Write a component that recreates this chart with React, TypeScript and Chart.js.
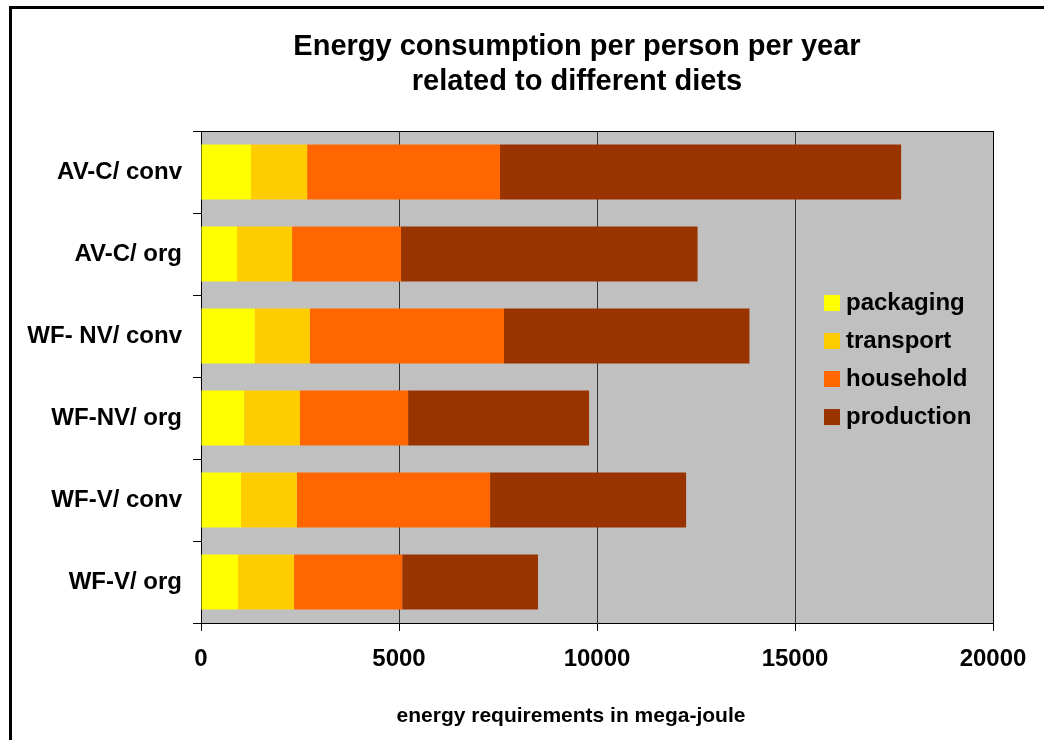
import React, { useEffect, useRef } from "react";
import { Chart, registerables } from "chart.js";

Chart.register(...registerables);

const categories = ["AV-C/ conv", "AV-C/ org", "WF- NV/ conv", "WF-NV/ org", "WF-V/ conv", "WF-V/ org"];
const packaging = [1260, 910, 1360, 1090, 1010, 935];
const transport = [1420, 1390, 1390, 1410, 1410, 1415];
const household = [4870, 2750, 4900, 2730, 4880, 2730];
const production = [10130, 7490, 6200, 4570, 4950, 3430];
const seriesNames = ["packaging", "transport", "household", "production"];
const seriesColors = ["#FFFF00", "#FFCC00", "#FF6600", "#993300"];
const xTicks = [0, 5000, 10000, 15000, 20000];
const titleLines = ["Energy consumption per person per year", "related to different diets"];
const xAxisTitle = "energy requirements in mega-joule";

const FONT = '"Liberation Sans", Arial, sans-serif';

const decorPlugin = {
  id: "decor",
  beforeDraw(chart: any) {
    const { ctx, chartArea } = chart;
    ctx.save();
    ctx.fillStyle = "#ffffff";
    ctx.fillRect(0, 0, chart.width, chart.height);
    ctx.fillStyle = "#000000";
    ctx.fillRect(9, 6, chart.width, 3);
    ctx.fillRect(9, 6, 3, chart.height);
    ctx.fillStyle = "#C0C0C0";
    ctx.fillRect(chartArea.left, chartArea.top, chartArea.right - chartArea.left, chartArea.bottom - chartArea.top);
    ctx.restore();
  },
  afterDatasetsDraw(chart: any) {
    const { ctx, chartArea } = chart;
    ctx.save();
    ctx.strokeStyle = "#000000";
    ctx.lineWidth = 1;
    ctx.beginPath();
    ctx.moveTo(chartArea.left, chartArea.top + 0.5);
    ctx.lineTo(chartArea.right + 0.5, chartArea.top + 0.5);
    ctx.lineTo(chartArea.right + 0.5, chartArea.bottom);
    ctx.stroke();
    ctx.restore();
  },
  afterDraw(chart: any) {
    const { ctx } = chart;
    ctx.save();
    ctx.fillStyle = "#000000";
    ctx.textAlign = "center";
    ctx.textBaseline = "middle";
    ctx.font = `bold 29px ${FONT}`;
    ctx.fillText(titleLines[0], 577, 47);
    ctx.fillText(titleLines[1], 577, 82);
    ctx.font = `bold 21px ${FONT}`;
    ctx.fillText(xAxisTitle, 571, 716);
    // legend
    ctx.textAlign = "left";
    ctx.font = `bold 24px ${FONT}`;
    chart.data.datasets.forEach((ds: any, i: number) => {
      const top = 295 + 38 * i;
      ctx.fillStyle = ds.backgroundColor;
      ctx.fillRect(824, top, 16, 16);
      ctx.fillStyle = "#000000";
      ctx.fillText(ds.label, 846, top + 8);
    });
    ctx.restore();
  },
};

export default function App() {
  const ref = useRef<HTMLCanvasElement | null>(null);
  useEffect(() => {
    if (!ref.current) return;
    const values = [packaging, transport, household, production];
    const chart = new Chart(ref.current, {
      type: "bar",
      data: {
        labels: categories,
        datasets: seriesNames.map((name, i) => ({
          label: name,
          data: values[i],
          backgroundColor: seriesColors[i],
          borderWidth: 0,
          barPercentage: 0.67,
          categoryPercentage: 1,
        })),
      },
      options: {
        indexAxis: "y",
        responsive: false,
        animation: false,
        layout: { padding: { left: 0, top: 131, right: 51, bottom: 0 } },
        plugins: { legend: { display: false }, title: { display: false }, tooltip: { enabled: false } },
        scales: {
          x: {
            stacked: true,
            min: 0,
            max: 20000,
            afterFit: (s: any) => { s.height = 117; },
            afterBuildTicks: (s: any) => { s.ticks = xTicks.map((v) => ({ value: v })); },
            grid: { color: "#333333", lineWidth: 1, drawTicks: true, tickLength: 8, tickColor: "#000000" },
            border: { display: true, color: "#000000", width: 1 },
            ticks: {
              color: "#000000",
              padding: 14,
              font: { family: FONT, size: 24, weight: "bold" },
              maxRotation: 0,
              callback: (v: any) => String(v),
            },
          },
          y: {
            stacked: true,
            afterFit: (s: any) => { s.width = 201; },
            grid: { drawOnChartArea: false, drawTicks: true, tickLength: 8, color: "#000000", offset: true },
            border: { display: true, color: "#000000", width: 1 },
            ticks: { color: "#000000", padding: 11, font: { family: FONT, size: 24, weight: "bold" } },
          },
        },
      },
      plugins: [decorPlugin],
    } as any);
    return () => chart.destroy();
  }, []);
  return (
    <div style={{ position: "absolute", left: 0, top: 0, width: 1044, height: 740 }}>
      <canvas ref={ref} width={1044} height={740} />
    </div>
  );
}
